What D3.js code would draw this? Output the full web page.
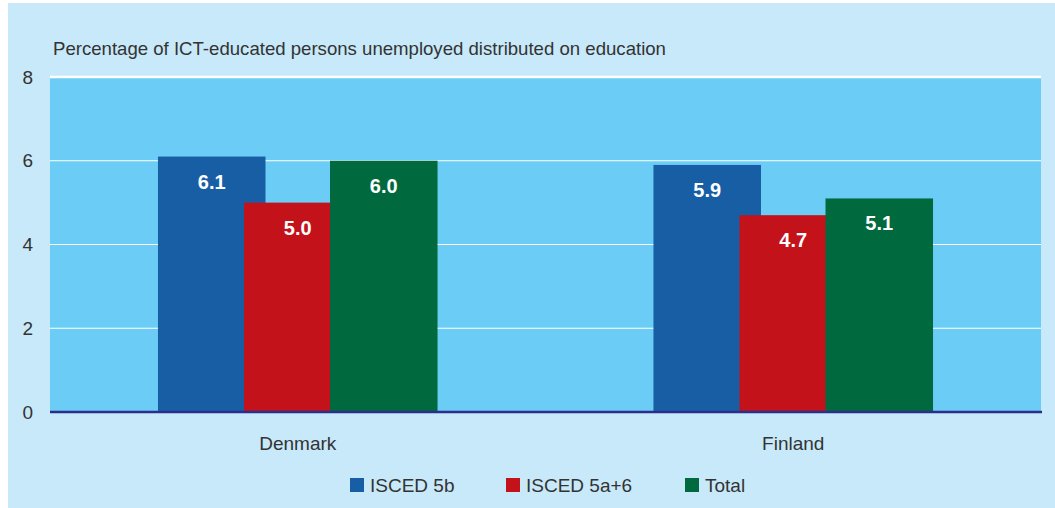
<!DOCTYPE html>
<html><head><meta charset="utf-8">
<script src="https://cdn.jsdelivr.net/npm/d3@7"></script>
<style>body{margin:0;background:#fff}svg{display:block}</style>
</head><body>
<svg id="c" width="1055" height="508"></svg>
<script>
const categories = ["Denmark", "Finland"];
const seriesNames = ["ISCED 5b", "ISCED 5a+6", "Total"];
const isced5b = [6.1, 5.9];
const isced5a6 = [5.0, 4.7];
const total = [6.0, 5.1];
const yTicks = [0, 2, 4, 6, 8];
const title = "Percentage of ICT-educated persons unemployed distributed on education";

const colors = ["#175EA5", "#C4121A", "#006A3E"];
const series = [isced5b, isced5a6, total];
const font = "'Liberation Sans',Arial,sans-serif";

const svg = d3.select("#c");
svg.append("rect").attr("x", 8).attr("y", 3).attr("width", 1047).attr("height", 505).attr("fill", "#C7E9F9");

const m = {l: 50, r: 1041, t: 77, b: 412};
const x = d3.scaleBand().domain(categories).range([m.l, m.r]);
const y = d3.scaleLinear().domain([0, 8]).range([m.b, m.t]);

svg.append("rect").attr("x", m.l).attr("y", m.t).attr("width", m.r - m.l).attr("height", m.b - m.t).attr("fill", "#6BCDF5");

// gridlines
svg.append("g").selectAll("line").data(yTicks.filter(d => d > 0)).join("line")
  .attr("x1", m.l).attr("x2", m.r)
  .attr("y1", d => y(d)).attr("y2", d => y(d))
  .attr("stroke", "#fff").attr("stroke-width", d => d === 8 ? 2.5 : 1.2);

// y axis labels
const yAxis = d3.axisLeft(y).tickValues(yTicks).tickSize(0).tickPadding(17).tickFormat(d3.format("d"));
const ga = svg.append("g").attr("transform", `translate(${m.l},0)`).call(yAxis);
ga.select(".domain").remove();
ga.selectAll("text").attr("font-family", font).attr("font-size", 19).attr("fill", "#333");

// bars
const bw = x.bandwidth();
const barW = bw * 0.217;
const step = bw * 0.1736;
const groupW = step * 2 + barW;
const bx = (c, si) => x(c) + bw / 2 - groupW / 2 + si * step;
series.forEach((vals, si) => {
  svg.append("g").selectAll("rect").data(categories).join("rect")
    .attr("x", c => bx(c, si))
    .attr("y", (c, i) => y(vals[i]))
    .attr("width", barW)
    .attr("height", (c, i) => y(0) - y(vals[i]))
    .attr("fill", colors[si]);
});
series.forEach((vals, si) => {
  svg.append("g").selectAll("text").data(categories).join("text")
    .attr("x", c => bx(c, si) + barW / 2)
    .attr("y", (c, i) => y(vals[i]) + 32)
    .attr("text-anchor", "middle")
    .attr("font-family", font).attr("font-size", 20).attr("font-weight", "bold")
    .attr("fill", "#fff")
    .text((c, i) => vals[i].toFixed(1));
});

// zero line
svg.append("line").attr("x1", m.l).attr("x2", m.r + 1).attr("y1", y(0)).attr("y2", y(0))
  .attr("stroke", "#2B2E8C").attr("stroke-width", 2.5);

// x labels
const xAxis = d3.axisBottom(x).tickSize(0).tickPadding(25);
const gx = svg.append("g").attr("transform", `translate(0,${m.b})`).call(xAxis);
gx.select(".domain").remove();
gx.selectAll("text").attr("font-family", font).attr("font-size", 19).attr("fill", "#333");

// title
svg.append("text").attr("x", 53).attr("y", 55).attr("font-family", font).attr("font-size", 18.6)
  .attr("fill", "#333").text(title);

// legend
const legX = [350, 506, 685];
const lg = svg.append("g").selectAll("g").data(seriesNames).join("g")
  .attr("transform", (d, i) => `translate(${legX[i]},478)`);
lg.append("rect").attr("width", 14).attr("height", 14).attr("fill", (d, i) => colors[i]);
lg.append("text").attr("x", 20).attr("y", 14).attr("font-family", font).attr("font-size", 19)
  .attr("fill", "#333").text(d => d);
</script>
</body></html>
